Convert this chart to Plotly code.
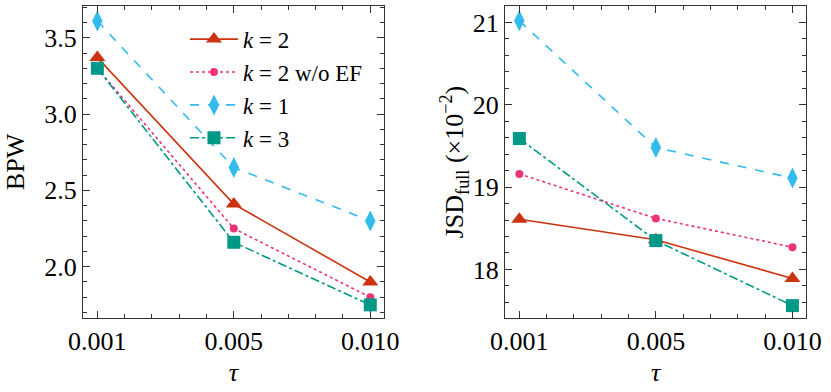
import plotly.graph_objects as go
from plotly.subplots import make_subplots

# tau values shown as evenly spaced categories
tau_labels = ["0.001", "0.005", "0.010"]

# BPW (left panel)
bpw_k2 = [3.37, 2.41, 1.90]
bpw_k2_noef = [3.30, 2.25, 1.80]
bpw_k1 = [3.61, 2.65, 2.30]
bpw_k3 = [3.30, 2.16, 1.75]

# JSD_full x 1e-2 (right panel)
jsd_k2 = [18.61, 18.36, 17.89]
jsd_k2_noef = [19.16, 18.62, 18.27]
jsd_k1 = [21.02, 19.48, 19.11]
jsd_k3 = [19.59, 18.35, 17.56]

series = [
    ("<i>k</i> = 2", "#CC3311", "solid", "triangle-up", 14),
    ("<i>k</i> = 2 w/o EF", "#EE3377", "dot", "circle", 8),
    ("<i>k</i> = 1", "#33BBEE", "dash", "diamond-tall", 15),
    ("<i>k</i> = 3", "#009988", "dashdot", "square", 13),
]
left_vals = [bpw_k2, bpw_k2_noef, bpw_k1, bpw_k3]
right_vals = [jsd_k2, jsd_k2_noef, jsd_k1, jsd_k3]

FONT = "Liberation Serif"
x_idx = list(range(len(tau_labels)))

fig = make_subplots(rows=1, cols=2)

for (name, color, dash, symbol, size), yl, yr in zip(series, left_vals, right_vals):
    for col, ys, show in ((1, yl, True), (2, yr, False)):
        fig.add_trace(
            go.Scatter(
                x=x_idx, y=ys, name=name, mode="lines+markers",
                line=dict(color=color, dash=dash, width=1.6),
                marker=dict(symbol=symbol, size=size, color=color),
                showlegend=show,
            ),
            row=1, col=col,
        )

axis_common = dict(
    showline=True, linecolor="#333", linewidth=1.2, mirror="allticks",
    ticks="inside", ticklen=7, tickwidth=1, tickcolor="#333",
    showgrid=False, zeroline=False, automargin=False,
    tickfont=dict(family=FONT, size=26, color="black"),
    title_font=dict(family=FONT, size=26, color="black"),
)

xaxis_cfg = dict(
    axis_common, range=[-0.105, 2.1], tickvals=x_idx, ticktext=tau_labels,
    title_text="<i>τ</i>", title_standoff=7,
    minor=dict(ticks="inside", ticklen=4, dtick=0.2, tick0=0, tickcolor="#333", showgrid=False),
)
fig.update_xaxes(xaxis_cfg, row=1, col=1)
fig.update_xaxes(xaxis_cfg, row=1, col=2)

fig.update_yaxes(
    axis_common, range=[1.664, 3.708], dtick=0.5, tick0=0, tickformat=".1f",
    title_text="BPW", title_standoff=12,
    minor=dict(ticks="inside", ticklen=4, dtick=0.1, tick0=0, tickcolor="#333", showgrid=False),
    row=1, col=1,
)
fig.update_yaxes(
    axis_common, range=[17.41, 21.2], dtick=1, tick0=0,
    title_text="JSD<sub>full</sub> (×10<sup>−2</sup>)", title_standoff=0,
    minor=dict(ticks="inside", ticklen=4, dtick=0.2, tick0=0, tickcolor="#333", showgrid=False),
    row=1, col=2,
)

fig.update_layout(
    width=831, height=392,
    font=dict(family=FONT, size=23, color="black"),
    margin=dict(l=0, r=0, t=0, b=0),
    paper_bgcolor="white", plot_bgcolor="white",
    xaxis=dict(domain=[0.0999, 0.462]),
    xaxis2=dict(domain=[0.6077, 0.970]),
    yaxis=dict(domain=[0.1888, 0.9847]),
    yaxis2=dict(domain=[0.1888, 0.9847]),
    legend=dict(
        x=0.2226, y=0.955, xanchor="left", yanchor="top",
        bgcolor="rgba(0,0,0,0)", itemwidth=48,
        font=dict(family=FONT, size=23, color="black"),
        tracegroupgap=0,
    ),
)

fig.write_html(
    "out.html",
    config={"displayModeBar": False},
    post_script="document.body.style.margin='0';",
)
